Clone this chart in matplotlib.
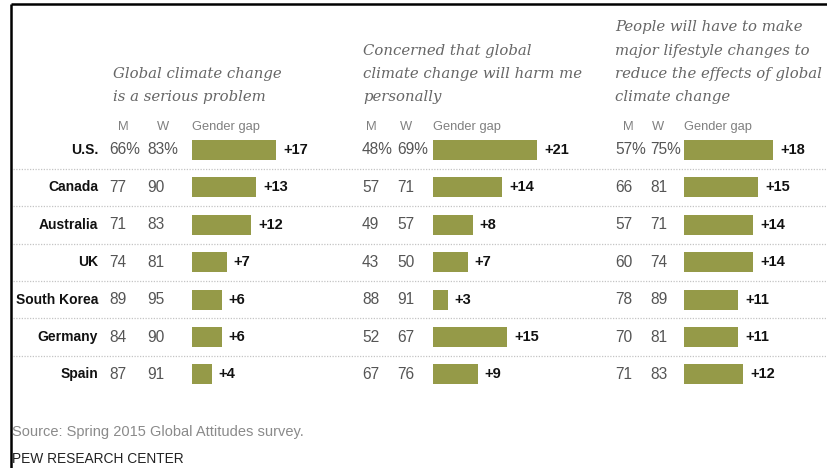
import numpy as np
import matplotlib.pyplot as plt

countries = ['U.S.', 'Canada', 'Australia', 'UK', 'South Korea', 'Germany', 'Spain']

titles = ['Global climate change\nis a serious problem',
          'Concerned that global\nclimate change will harm me\npersonally',
          'People will have to make\nmajor lifestyle changes to\nreduce the effects of global\nclimate change']

men_serious = [66, 77, 71, 74, 89, 84, 87]
women_serious = [83, 90, 83, 81, 95, 90, 91]
gap_serious = [17, 13, 12, 7, 6, 6, 4]

men_harm = [48, 57, 49, 43, 88, 52, 67]
women_harm = [69, 71, 57, 50, 91, 67, 76]
gap_harm = [21, 14, 8, 7, 3, 15, 9]

men_lifestyle = [57, 66, 57, 60, 78, 70, 71]
women_lifestyle = [75, 81, 71, 74, 89, 81, 83]
gap_lifestyle = [18, 15, 14, 14, 11, 11, 12]

men = [men_serious, men_harm, men_lifestyle]
women = [women_serious, women_harm, women_lifestyle]
gaps = [gap_serious, gap_harm, gap_lifestyle]

W, H = 827, 468
BAR_COLOR = '#959a48'
GREY = '#555555'

fig = plt.figure(figsize=(W / 100, H / 100), dpi=100)
bg = fig.add_axes([0, 0, 1, 1])
bg.set_xlim(0, W)
bg.set_ylim(H, 0)
bg.axis('off')

# screenshot frame (top and left)
bg.plot([11, W], [4, 4], color='black', lw=1.8, solid_capstyle='butt')
bg.plot([11, 11], [4, H], color='black', lw=1.8, solid_capstyle='butt')

row_y = 150 + 37.4 * np.arange(len(countries))

# row separators
for y in (row_y[:-1] + row_y[1:]) / 2:
    bg.plot([13, W], [y, y], color='#c4c4c4', lw=0.9, linestyle=(0, (1, 1.2)))

for i, c in enumerate(countries):
    bg.text(98, row_y[i], c, ha='right', va='center', fontsize=10,
            fontweight='bold', family='Liberation Sans', color='#111111')

m_x = [109, 362, 615]
w_x = [147, 397, 650]
m_head_x = [118, 366, 623]
w_head_x = [157, 400, 652]
bar_x = [192, 433, 684]
title_x = [113, 363, 615]
px_per_pt = 4.95

for p in range(3):
    # titles
    bg.text(title_x[p], 104, titles[p], ha='left', va='bottom', fontsize=10.7,
            style='italic', family='DejaVu Serif', color='#666666',
            linespacing=1.84)
    for x, s in [(m_head_x[p], 'M'), (w_head_x[p], 'W'), (bar_x[p], 'Gender gap')]:
        bg.text(x, 127, s, ha='left', va='center', fontsize=9.3,
                color='#808080', family='Liberation Sans')
    for i in range(len(countries)):
        suffix = '%' if i == 0 else ''
        bg.text(m_x[p], row_y[i], f'{men[p][i]}{suffix}', ha='left',
                va='center', fontsize=11.2, color=GREY, family='Liberation Sans')
        bg.text(w_x[p], row_y[i], f'{women[p][i]}{suffix}', ha='left',
                va='center', fontsize=11.2, color=GREY, family='Liberation Sans')

    # bar axes: 1 unit = one percentage point
    width_pts = 26
    ax = fig.add_axes([bar_x[p] / W, 0, width_pts * px_per_pt / W, 1])
    ax.set_xlim(0, width_pts)
    ax.set_ylim(H, 0)
    ax.axis('off')
    ax.barh(row_y, gaps[p], height=20, color=BAR_COLOR, left=0)
    for i, g in enumerate(gaps[p]):
        ax.text(g + 1.4, row_y[i], f'+{g}', ha='left', va='center',
                fontsize=10.5, fontweight='bold', color='#111111',
                family='Liberation Sans', clip_on=False)

bg.text(12, 432, 'Source: Spring 2015 Global Attitudes survey.', ha='left',
        va='center', fontsize=10.5, color='#8a8a8a', family='Liberation Sans')
bg.text(12, 459, 'PEW RESEARCH CENTER', ha='left', va='center', fontsize=9.9,
        color='#222222', family='Liberation Sans')

fig.savefig('out.png', dpi=100)
